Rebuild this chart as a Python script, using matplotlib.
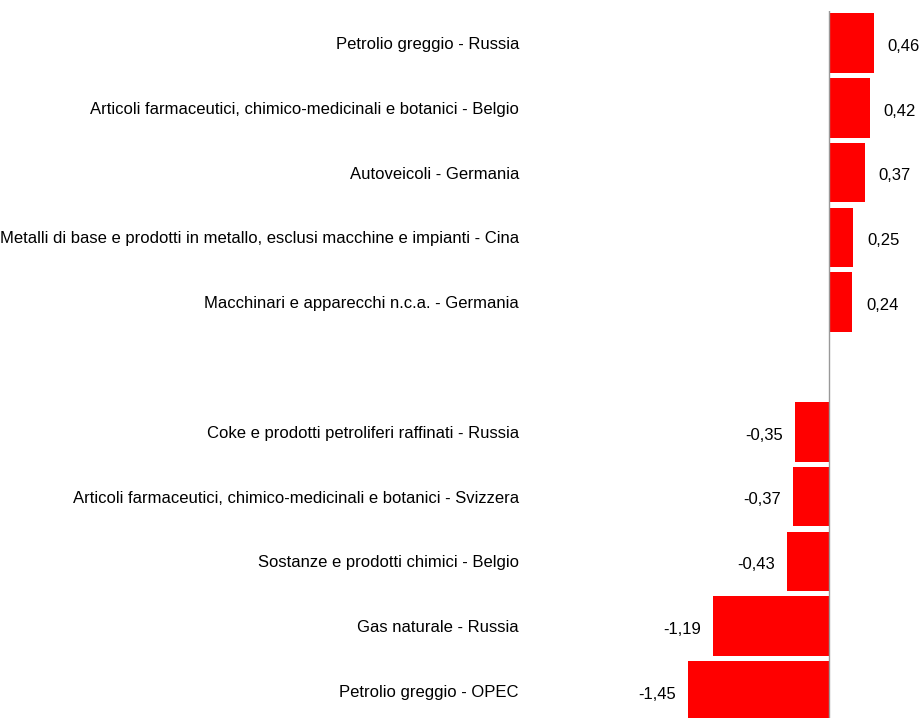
import numpy as np
import matplotlib
matplotlib.use("Agg")
import matplotlib.pyplot as plt
from matplotlib import font_manager

# categories top to bottom, "" is the empty gap row
categories = [
    "Petrolio greggio - Russia",
    "Articoli farmaceutici, chimico-medicinali e botanici - Belgio",
    "Autoveicoli - Germania",
    "Metalli di base e prodotti in metallo, esclusi macchine e impianti - Cina",
    "Macchinari e apparecchi n.c.a. - Germania",
    "",
    "Coke e prodotti petroliferi raffinati - Russia",
    "Articoli farmaceutici, chimico-medicinali e botanici - Svizzera",
    "Sostanze e prodotti chimici - Belgio",
    "Gas naturale - Russia",
    "Petrolio greggio - OPEC",
]
values = [0.46, 0.42, 0.37, 0.25, 0.24, np.nan, -0.35, -0.37, -0.43, -1.19, -1.45]

names = [f.name for f in font_manager.fontManager.ttflist]
fam = "Liberation Sans Narrow" if "Liberation Sans Narrow" in names else "Liberation Sans"
plt.rcParams["font.family"] = [fam, "DejaVu Sans"]

fig = plt.figure(figsize=(9.24, 7.18), dpi=100)
# axes runs slightly past the bottom edge, so the last bar is cut off like the original
ax = fig.add_axes([530 / 924, -0.00752, 394 / 924, 0.99276])

pos = np.arange(len(categories))
vals = np.array(values)
ok = ~np.isnan(vals)
ax.barh(pos[ok], vals[ok], height=0.92, color="#ff0000")
ax.axvline(0, color="#999999", lw=1)

for p, v in zip(pos[ok], vals[ok]):
    lab = f"{v:.2f}".replace(".", ",")
    if v > 0:
        ax.text(v + 0.14, p + 0.05, lab, ha="left", va="center", fontsize=12)
    else:
        ax.text(v - 0.12, p + 0.05, lab, ha="right", va="center", fontsize=12)

ax.set_xlim(-(829 - 530) / 97.5, (924 - 829) / 97.5)
ax.set_ylim(10.5, -0.5)
ax.set_yticks(pos)
ax.set_yticklabels(categories, fontsize=12)
ax.tick_params(axis="y", length=0, pad=8)
ax.set_xticks([])
for s in ax.spines.values():
    s.set_visible(False)

fig.savefig("out.png", dpi=100)
